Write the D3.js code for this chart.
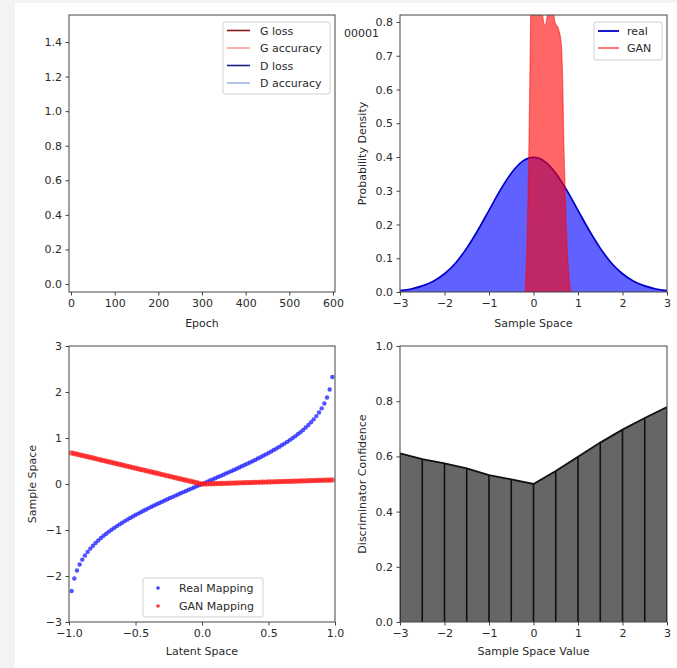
<!DOCTYPE html>
<html><head><meta charset="utf-8">
<script src="https://cdn.jsdelivr.net/npm/d3@7"></script>
<style>
body{margin:0;background:#f3f3f3;}
svg{display:block;font-family:"DejaVu Sans",sans-serif;}
</style></head><body>
<svg id="c" width="677" height="668"></svg>
<script>
// ---------- data ----------
const epochTicks = [0,100,200,300,400,500,600];
const lossTicks = [0.0,0.2,0.4,0.6,0.8,1.0,1.2,1.4];
const lossLegend = ["G loss","G accuracy","D loss","D accuracy"];
const lossColors = ["#8b1a1a","#f4a09a","#1c1c8a","#9fb3e3"];

const densityX = [-3,-2.75,-2.5,-2.25,-2,-1.75,-1.5,-1.25,-1,-0.75,-0.5,-0.25,0,0.25,0.5,0.75,1,1.25,1.5,1.75,2,2.25,2.5,2.75,3];
const realDensity = [0.004,0.009,0.018,0.032,0.054,0.086,0.130,0.183,0.242,0.301,0.352,0.387,0.399,0.387,0.352,0.301,0.242,0.183,0.130,0.086,0.054,0.032,0.018,0.009,0.004];
const ganX = [-0.22,-0.19,-0.17,-0.15,-0.12,-0.10,-0.08,-0.06,-0.03,0.10,0.19,0.26,0.34,0.42,0.48,0.56,0.62,0.66,0.68,0.70,0.73,0.77,0.80,0.84];
const ganDensity = [0,0.0,0.05,0.12,0.30,0.45,0.65,0.85,1.0,1.1,0.84,0.79,0.84,0.86,0.80,0.78,0.74,0.60,0.45,0.35,0.22,0.10,0.04,0.0];
const densityLegend = ["real","GAN"];

const latentX = [-0.98,-0.96,-0.94,-0.92,-0.90,-0.88,-0.86,-0.84,-0.82,-0.80,-0.78,-0.76,-0.74,-0.72,-0.70,-0.68,-0.66,-0.64,-0.62,-0.60,-0.58,-0.56,-0.54,-0.52,-0.50,-0.48,-0.46,-0.44,-0.42,-0.40,-0.38,-0.36,-0.34,-0.32,-0.30,-0.28,-0.26,-0.24,-0.22,-0.20,-0.18,-0.16,-0.14,-0.12,-0.10,-0.08,-0.06,-0.04,-0.02,0,
0.02,0.04,0.06,0.08,0.10,0.12,0.14,0.16,0.18,0.20,0.22,0.24,0.26,0.28,0.30,0.32,0.34,0.36,0.38,0.40,0.42,0.44,0.46,0.48,0.50,0.52,0.54,0.56,0.58,0.60,0.62,0.64,0.66,0.68,0.70,0.72,0.74,0.76,0.78,0.80,0.82,0.84,0.86,0.88,0.90,0.92,0.94,0.96,0.98];
const realMapping = [-2.326,-2.054,-1.881,-1.751,-1.645,-1.555,-1.476,-1.405,-1.341,-1.282,-1.227,-1.175,-1.126,-1.080,-1.036,-0.994,-0.954,-0.915,-0.878,-0.842,-0.806,-0.772,-0.739,-0.706,-0.674,-0.643,-0.613,-0.583,-0.553,-0.524,-0.496,-0.468,-0.440,-0.412,-0.385,-0.358,-0.332,-0.305,-0.279,-0.253,-0.228,-0.202,-0.176,-0.151,-0.126,-0.100,-0.075,-0.050,-0.025,0,
0.025,0.050,0.075,0.100,0.126,0.151,0.176,0.202,0.228,0.253,0.279,0.305,0.332,0.358,0.385,0.412,0.440,0.468,0.496,0.524,0.553,0.583,0.613,0.643,0.674,0.706,0.739,0.772,0.806,0.842,0.878,0.915,0.954,0.994,1.036,1.080,1.126,1.175,1.227,1.282,1.341,1.405,1.476,1.555,1.645,1.751,1.881,2.054,2.326];
const ganMapping = [0.676,0.662,0.649,0.635,0.621,0.607,0.593,0.580,0.566,0.552,0.538,0.524,0.511,0.497,0.483,0.469,0.455,0.442,0.428,0.414,0.400,0.386,0.373,0.359,0.345,0.331,0.317,0.304,0.290,0.276,0.262,0.248,0.235,0.221,0.207,0.193,0.179,0.166,0.152,0.138,0.124,0.110,0.097,0.083,0.069,0.055,0.041,0.028,0.014,0.0,
0.002,0.004,0.005,0.007,0.009,0.011,0.013,0.014,0.016,0.018,0.020,0.022,0.023,0.025,0.027,0.029,0.031,0.032,0.034,0.036,0.038,0.040,0.041,0.043,0.045,0.047,0.049,0.050,0.052,0.054,0.056,0.058,0.059,0.061,0.063,0.065,0.067,0.068,0.070,0.072,0.074,0.076,0.077,0.079,0.081,0.083,0.085,0.086,0.088];
const mappingLegend = ["Real Mapping","GAN Mapping"];

const sampleX = [-3,-2.5,-2,-1.5,-1,-0.5,0,0.5,1,1.5,2,2.5,3];
const confidence = [0.611,0.590,0.575,0.557,0.532,0.517,0.500,0.547,0.599,0.650,0.697,0.739,0.779];

// ---------- helpers ----------
const svg = d3.select("#c");
svg.append("rect").attr("x",15).attr("y",3).attr("width",662).attr("height",665).attr("fill","#fff");
const TXT = "#2a2a2a", SPINE = "#444";

function panel(o){
  const g = svg.append("g");
  const x = d3.scaleLinear().domain(o.xd).range([o.l, o.r]);
  const y = d3.scaleLinear().domain(o.yd).range([o.b, o.t]);
  const clipId = "clip" + o.id;
  svg.append("clipPath").attr("id", clipId).append("rect")
    .attr("x", o.l).attr("y", o.t).attr("width", o.r-o.l).attr("height", o.b-o.t);
  const plot = g.append("g").attr("clip-path", `url(#${clipId})`);
  const ax = g.append("g").attr("transform", `translate(0,${o.b})`)
    .call(d3.axisBottom(x).tickValues(o.xt).tickFormat(o.xf).tickSize(3.5).tickPadding(3.5).tickSizeOuter(0));
  const ay = g.append("g").attr("transform", `translate(${o.l},0)`)
    .call(d3.axisLeft(y).tickValues(o.yt).tickFormat(o.yf).tickSize(3.5).tickPadding(3.5).tickSizeOuter(0));
  [ax, ay].forEach(a => {
    a.select(".domain").remove();
    a.selectAll("line").attr("stroke", SPINE);
    a.selectAll("text").attr("font-size", 11).attr("fill", TXT).attr("font-family", "DejaVu Sans");
  });
  g.append("text").attr("x", (o.l+o.r)/2).attr("y", o.xly).attr("text-anchor","middle")
    .attr("font-size", 11).attr("fill", TXT).text(o.xl);
  if (o.yl) g.append("text").attr("transform", `translate(${o.ylx},${(o.t+o.b)/2}) rotate(-90)`)
    .attr("text-anchor","middle").attr("font-size", 11).attr("fill", TXT).text(o.yl);
  const frame = () => g.append("rect").attr("x", o.l).attr("y", o.t).attr("width", o.r-o.l).attr("height", o.b-o.t)
    .attr("fill","none").attr("stroke", SPINE).attr("stroke-width", 1);
  return {g, plot, x, y, frame};
}

function legendBox(g, x0, y0, w, h){
  g.append("rect").attr("x", x0).attr("y", y0).attr("width", w).attr("height", h).attr("rx", 2)
    .attr("fill", "#fff").attr("fill-opacity", 0.85).attr("stroke", "#d0d0d0");
}

// ---------- panel 1: losses ----------
const p1 = panel({id:1, l:69, r:335, t:15, b:292, xd:[-4.6,604.6], yd:[-0.046,1.556],
  xt:epochTicks, yt:lossTicks, xf:d3.format("d"), yf:d3.format(".1f"), xl:"Epoch", xly:327});
p1.frame();
legendBox(p1.g, 223, 22, 107, 72);
lossLegend.forEach((name, i) => {
  const yy = 30.5 + i*17.5;
  p1.g.append("line").attr("x1", 227).attr("x2", 250).attr("y1", yy).attr("y2", yy)
    .attr("stroke", lossColors[i]).attr("stroke-width", 1.6);
  p1.g.append("text").attr("x", 260).attr("y", yy+4).attr("font-size", 11).attr("fill", TXT).text(name);
});

// ---------- panel 2: densities ----------
const p2 = panel({id:2, l:400, r:667, t:15, b:292, xd:[-3,3], yd:[0,0.8207],
  xt:[-3,-2,-1,0,1,2,3], yt:[0,0.1,0.2,0.3,0.4,0.5,0.6,0.7,0.8], xf:d3.format("d"), yf:d3.format(".1f"),
  xl:"Sample Space", xly:327, yl:"Probability Density", ylx:366});
const realPts = densityX.map((v,i)=>[v, realDensity[i]]);
const ganPts = ganX.map((v,i)=>[v, ganDensity[i]]);
p2.plot.append("path").datum(realPts)
  .attr("d", d3.area().x(d=>p2.x(d[0])).y0(p2.y(0)).y1(d=>p2.y(d[1])).curve(d3.curveMonotoneX))
  .attr("fill", "rgba(0,0,255,0.62)");
p2.plot.append("path").datum(realPts)
  .attr("d", d3.line().x(d=>p2.x(d[0])).y(d=>p2.y(d[1])).curve(d3.curveMonotoneX))
  .attr("fill", "none").attr("stroke", "#0000c8").attr("stroke-width", 1.7);
p2.plot.append("path").datum(ganPts)
  .attr("d", d3.area().x(d=>p2.x(d[0])).y0(p2.y(0)).y1(d=>p2.y(d[1])).curve(d3.curveMonotoneX))
  .attr("fill", "rgba(255,0,0,0.6)");
p2.plot.append("path").datum(ganPts)
  .attr("d", d3.line().x(d=>p2.x(d[0])).y(d=>p2.y(d[1])).curve(d3.curveMonotoneX))
  .attr("fill", "none").attr("stroke", "rgba(255,0,0,0.5)").attr("stroke-width", 1.2);
p2.frame();
legendBox(p2.g, 594, 22, 68, 38);
densityLegend.forEach((name, i) => {
  const yy = 31 + i*17;
  p2.g.append("line").attr("x1", 598).attr("x2", 619).attr("y1", yy).attr("y2", yy)
    .attr("stroke", i===0 ? "#0000c8" : "#ff6a6a").attr("stroke-width", 1.8);
  p2.g.append("text").attr("x", 627).attr("y", yy+4).attr("font-size", 11).attr("fill", TXT).text(name);
});
svg.append("text").attr("x", 344).attr("y", 37).attr("font-size", 11).attr("fill", TXT).text("00001");

// ---------- panel 3: mappings ----------
const p3 = panel({id:3, l:69, r:335, t:346, b:622, xd:[-1,1], yd:[-3,3],
  xt:[-1,-0.5,0,0.5,1], yt:[-3,-2,-1,0,1,2,3], xf:d3.format(".1f"), yf:d3.format("d"),
  xl:"Latent Space", xly:655, yl:"Sample Space", ylx:36});
p3.g.selectAll("circle.real").data(latentX).enter().append("circle")
  .attr("cx", d=>p3.x(d)).attr("cy", (d,i)=>p3.y(realMapping[i])).attr("r", 2.2)
  .attr("fill", "#1a1aff").attr("fill-opacity", 0.75);
p3.g.selectAll("circle.gan").data(latentX).enter().append("circle")
  .attr("cx", d=>p3.x(d)).attr("cy", (d,i)=>p3.y(ganMapping[i])).attr("r", 2.6)
  .attr("fill", "#ff1a1a").attr("fill-opacity", 0.75);
p3.frame();
legendBox(p3.g, 143, 578, 120, 39);
mappingLegend.forEach((name, i) => {
  const yy = 588 + i*18;
  p3.g.append("circle").attr("cx", 158).attr("cy", yy).attr("r", 1.8)
    .attr("fill", i===0 ? "#3a3aff" : "#ff3a3a");
  p3.g.append("text").attr("x", 179).attr("y", yy+4).attr("font-size", 11).attr("fill", TXT).text(name);
});

// ---------- panel 4: discriminator ----------
const p4 = panel({id:4, l:400, r:667, t:346, b:622, xd:[-3,3], yd:[0,1],
  xt:[-3,-2,-1,0,1,2,3], yt:[0,0.2,0.4,0.6,0.8,1.0], xf:d3.format("d"), yf:d3.format(".1f"),
  xl:"Sample Space Value", xly:655, yl:"Discriminator Confidence", ylx:366});
const confPts = sampleX.map((v,i)=>[v, confidence[i]]);
p4.plot.append("path").datum(confPts)
  .attr("d", d3.area().x(d=>p4.x(d[0])).y0(p4.y(0)).y1(d=>p4.y(d[1])))
  .attr("fill", "#666");
p4.plot.selectAll("line.v").data(confPts).enter().append("line")
  .attr("x1", d=>p4.x(d[0])).attr("x2", d=>p4.x(d[0]))
  .attr("y1", p4.y(0)).attr("y2", d=>p4.y(d[1]))
  .attr("stroke", "#111").attr("stroke-width", 1.6);
p4.plot.append("path").datum(confPts)
  .attr("d", d3.line().x(d=>p4.x(d[0])).y(d=>p4.y(d[1])))
  .attr("fill", "none").attr("stroke", "#111").attr("stroke-width", 1.8);
p4.frame();
</script>
</body></html>
